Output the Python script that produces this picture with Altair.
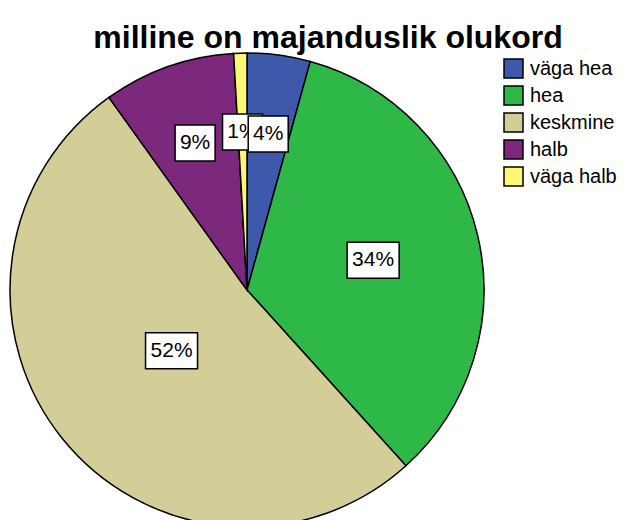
import altair as alt
import pandas as pd

categories = ["väga hea", "hea", "keskmine", "halb", "väga halb"]
percents = [4.3, 34.0, 51.8, 9.0, 0.9]
labels = ["4%", "34%", "52%", "9%", "1%"]
colors = ["#3E58AC", "#2EB848", "#D3CE97", "#7C287D", "#FBF873"]

W, H, R = 478, 460, 237
TOP = 52
FONT = "Liberation Sans"

df = pd.DataFrame({
    "kategooria": categories,
    "protsent": percents,
    "silt": labels,
    "jrk": list(range(len(categories))),
})

arcs = alt.Chart(df).mark_arc(radius=R, stroke="black", strokeWidth=1.5).encode(
    theta=alt.Theta("protsent:Q", stack=True),
    color=alt.Color(
        "kategooria:N",
        scale=alt.Scale(domain=categories, range=colors),
        legend=alt.Legend(
            title=None, orient="none", legendX=495, legendY=-2,
            symbolType="square", symbolSize=361, symbolStrokeColor="black",
            symbolStrokeWidth=1.5, labelFont=FONT, labelFontSize=20,
            labelColor="black", rowPadding=2, labelOffset=6, padding=0,
            labelLimit=200,
        ),
    ),
    order=alt.Order("jrk:Q"),
)

lab = (
    alt.Chart(df)
    .transform_window(cum="sum(protsent)", sort=[alt.SortField("jrk")], frame=[None, 0])
    .transform_joinaggregate(total="sum(protsent)")
    .transform_calculate(
        a0="2*PI*(datum.cum - datum.protsent)/datum.total",
        half="PI*datum.protsent/datum.total",
    )
    .transform_calculate(
        mid="datum.a0 + datum.half",
        rc=f"2*{R}*sin(datum.half)/(3*datum.half)",
    )
    .transform_calculate(
        px=f"{W/2} + datum.rc*sin(datum.mid)",
        py=f"{H/2} - datum.rc*cos(datum.mid)",
        bw="12*length(datum.silt)+16",
    )
    .transform_calculate(
        bx1="datum.px - datum.bw/2", bx2="datum.px + datum.bw/2",
        by1="datum.py - 18", by2="datum.py + 18",
    )
)

def boxes(flt):
    return lab.transform_filter(flt).mark_rect(fill="white", stroke="black", strokeWidth=1.5).encode(
        x=alt.X("bx1:Q", scale=None), x2="bx2:Q",
        y=alt.Y("by1:Q", scale=None), y2="by2:Q",
    )

def texts(flt):
    return lab.transform_filter(flt).mark_text(font=FONT, fontSize=21, color="black", baseline="middle", align="center").encode(
        x=alt.X("px:Q", scale=None), y=alt.Y("py:Q", scale=None), text="silt:N",
    )

chart = alt.layer(
    arcs,
    boxes("datum.jrk != 0"), texts("datum.jrk != 0"),
    boxes("datum.jrk == 0"), texts("datum.jrk == 0"),
).properties(
    width=W, height=H,
    background="white",
    autosize=alt.AutoSizeParams(type="none"),
    padding={"left": 0, "top": TOP, "right": 132, "bottom": 0},
    title=alt.TitleParams(
        "milline on majanduslik olukord", font=FONT, fontSize=32, fontWeight="bold",
        color="black", anchor="middle", frame="group", dx=81, baseline="alphabetic",
        offset=0, dy=30,
    ),
).configure_view(strokeWidth=0, stroke="transparent")

chart.save("out.html", embed_options={"renderer": "svg", "actions": False})
